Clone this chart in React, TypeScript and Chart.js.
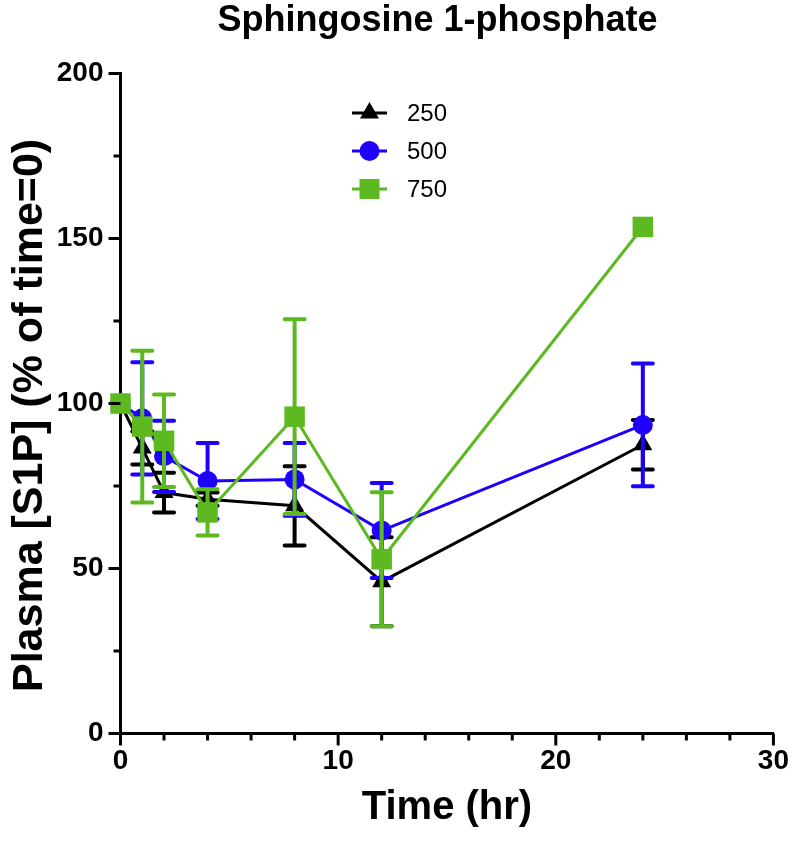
import React, { useEffect, useRef } from 'react';
import { Chart, registerables } from 'chart.js';

Chart.register(...registerables);

const TITLE = 'Sphingosine 1-phosphate';
const X_TITLE = 'Time (hr)';
const Y_TITLE = 'Plasma [S1P] (% of time=0)';

const timeHr = [0, 1, 2, 4, 8, 12, 24];
const seriesLabels = ['250', '500', '750'];

const mean250 = [100, 86.5, 73, 71, 69, 46, 87.5];
const err250 = [0, 5, 6, 2, 12, 13.5, 7.5];
const mean500 = [100, 95.5, 84, 76.5, 77, 61.5, 93.5];
const err500 = [0, 17, 10.8, 11.5, 11, 14.4, 18.6];
const mean750 = [100, 93, 88.7, 67, 96, 52.8, 153.5];
const err750 = [0, 23, 14, 7, 29.5, 20.3, 0];

const xLabelTicks = [0, 10, 20, 30];
const yLabelTicks = [0, 50, 100, 150, 200];

const BLACK = '#000000';
const BLUE = '#1e00ff';
const GREEN = '#5cb920';
const FONT = "'Liberation Sans', Arial, Helvetica, sans-serif";

const errorBarPlugin = {
  id: 'errorBars',
  beforeDatasetDraw(chart: any, args: any) {
    const ds = chart.data.datasets[args.index];
    const meta = args.meta;
    const ys = chart.scales.y;
    const ctx = chart.ctx;
    ctx.save();
    ctx.strokeStyle = ds.borderColor;
    ctx.lineWidth = 4;
    ctx.lineCap = 'round';
    meta.data.forEach((pt: any, i: number) => {
      const e = ds.errors[i];
      if (!e) return;
      const v = ds.data[i].y;
      const x = pt.x;
      const yTop = ys.getPixelForValue(v + e);
      const yBot = ys.getPixelForValue(v - e);
      ctx.beginPath();
      ctx.moveTo(x, yTop);
      ctx.lineTo(x, yBot);
      ctx.moveTo(x - 10, yTop);
      ctx.lineTo(x + 10, yTop);
      ctx.moveTo(x - 10, yBot);
      ctx.lineTo(x + 10, yBot);
      ctx.stroke();
    });
    ctx.restore();
  },
};

const axisTicksPlugin = {
  id: 'axisTicks',
  afterDraw(chart: any) {
    const ctx = chart.ctx;
    const xs = chart.scales.x;
    const ys = chart.scales.y;
    const area = chart.chartArea;
    ctx.save();
    ctx.strokeStyle = BLACK;
    ctx.lineWidth = 3;
    ctx.lineCap = 'butt';
    ys.ticks.forEach((t: any) => {
      const y = ys.getPixelForValue(t.value);
      const len = yLabelTicks.includes(t.value) ? 12 : 7;
      ctx.beginPath();
      ctx.moveTo(area.left - len, y);
      ctx.lineTo(area.left, y);
      ctx.stroke();
    });
    xs.ticks.forEach((t: any) => {
      const x = xs.getPixelForValue(t.value);
      const len = xLabelTicks.includes(t.value) ? 12 : 7;
      ctx.beginPath();
      ctx.moveTo(x, area.bottom);
      ctx.lineTo(x, area.bottom + len);
      ctx.stroke();
    });
    ctx.restore();
  },
};

const titlePlugin = {
  id: 'customTitle',
  afterDraw(chart: any) {
    const ctx = chart.ctx;
    ctx.save();
    ctx.fillStyle = BLACK;
    ctx.font = `bold 36px ${FONT}`;
    ctx.textAlign = 'center';
    ctx.textBaseline = 'middle';
    ctx.fillText(TITLE, 437.5, 21);
    ctx.restore();
  },
};

const legendPlugin = {
  id: 'customLegend',
  afterDraw(chart: any) {
    const ctx = chart.ctx;
    const rowsY = [113, 151, 189];
    const lineX0 = 352;
    const lineX1 = 387;
    const cx = 369.5;
    const textX = 407;
    ctx.save();
    chart.data.datasets.forEach((ds: any, i: number) => {
      const y = rowsY[i];
      ctx.strokeStyle = ds.borderColor;
      ctx.fillStyle = ds.borderColor;
      ctx.lineWidth = 3;
      ctx.beginPath();
      ctx.moveTo(lineX0, y);
      ctx.lineTo(lineX1, y);
      ctx.stroke();
      ctx.beginPath();
      if (ds.pointStyle === 'triangle') {
        const r = 11;
        ctx.moveTo(cx, y - r);
        ctx.lineTo(cx + r * Math.sin(Math.PI / 3), y + r / 2);
        ctx.lineTo(cx - r * Math.sin(Math.PI / 3), y + r / 2);
        ctx.closePath();
      } else if (ds.pointStyle === 'circle') {
        ctx.arc(cx, y, 10, 0, Math.PI * 2);
      } else {
        ctx.rect(cx - 10, y - 10, 20, 20);
      }
      ctx.fill();
      ctx.fillStyle = BLACK;
      ctx.font = `24px ${FONT}`;
      ctx.textAlign = 'left';
      ctx.textBaseline = 'middle';
      ctx.fillText(ds.label, textX, y + 1);
    });
    ctx.restore();
  },
};

function toPoints(means: number[]) {
  return timeHr.map((t, i) => ({ x: t, y: means[i] }));
}

export default function App() {
  const canvasRef = useRef<HTMLCanvasElement | null>(null);

  useEffect(() => {
    document.body.style.margin = '0';
    const canvas = canvasRef.current;
    if (!canvas) return;
    const mk = (label: string, means: number[], errs: number[], color: string, style: string, radius: number, order: number) => ({
      label,
      data: toPoints(means),
      errors: errs,
      borderColor: color,
      backgroundColor: color,
      pointBackgroundColor: color,
      pointBorderColor: color,
      pointBorderWidth: 0,
      borderWidth: 3,
      pointStyle: style,
      pointRadius: radius,
      pointHoverRadius: radius,
      tension: 0,
      clip: false,
      order,
    });
    const chart = new Chart(canvas, {
      type: 'line',
      data: {
        datasets: [
          mk(seriesLabels[0], mean250, err250, BLACK, 'triangle', 11, 3),
          mk(seriesLabels[1], mean500, err500, BLUE, 'circle', 10, 2),
          mk(seriesLabels[2], mean750, err750, GREEN, 'rect', 14.5, 1),
        ] as any,
      },
      options: {
        responsive: false,
        animation: false,
        devicePixelRatio: 1,
        layout: { padding: { top: 73.5, right: 16, bottom: 0, left: 0 } },
        plugins: {
          legend: { display: false },
          title: { display: false },
          tooltip: { enabled: false },
        },
        scales: {
          x: {
            type: 'linear',
            min: 0,
            max: 30,
            afterFit: (s: any) => { s.height = 107.5; },
            grid: { display: false, drawTicks: false },
            border: { display: true, color: BLACK, width: 3 },
            ticks: {
              stepSize: 2,
              autoSkip: false,
              maxRotation: 0,
              padding: 11,
              color: BLACK,
              font: { family: FONT, size: 28, weight: 'bold', lineHeight: 1.2 },
              callback: (v: any) => (xLabelTicks.includes(v) ? String(v) : ''),
            },
            title: {
              display: true,
              text: X_TITLE,
              color: BLACK,
              font: { family: FONT, size: 40, weight: 'bold', lineHeight: 1 },
              padding: { top: 0, bottom: 13 },
            },
          },
          y: {
            type: 'linear',
            min: 0,
            max: 200,
            afterFit: (s: any) => { s.width = 120.5; },
            grid: { display: false, drawTicks: false },
            border: { display: true, color: BLACK, width: 3 },
            ticks: {
              stepSize: 25,
              autoSkip: false,
              padding: 17,
              color: BLACK,
              font: { family: FONT, size: 28, weight: 'bold', lineHeight: 1.2 },
              callback: (v: any) => (yLabelTicks.includes(v) ? String(v) : ''),
            },
            title: {
              display: true,
              text: Y_TITLE + '  ',
              color: BLACK,
              font: { family: FONT, size: 43, weight: 'bold', lineHeight: 1 },
              padding: { top: 9, bottom: 0 },
            },
          },
        },
      } as any,
      plugins: [errorBarPlugin, axisTicksPlugin, titlePlugin, legendPlugin],
    });
    return () => chart.destroy();
  }, []);

  return (
    <div style={{ width: 800, height: 841 }}>
      <canvas ref={canvasRef} width={800} height={841} />
    </div>
  );
}
